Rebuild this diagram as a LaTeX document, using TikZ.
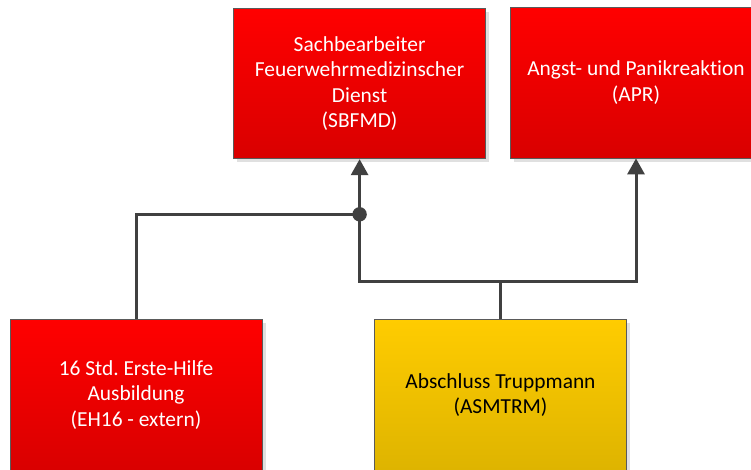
\documentclass[tikz,border=0pt]{standalone}
\usepackage{fontspec}
\setmainfont{Carlito}[Ligatures={NoCommon,NoRare,NoDiscretionary}]
\usetikzlibrary{arrows.meta,shadows}
\definecolor{lineg}{HTML}{404040}
\definecolor{boxborder}{HTML}{5A5A5A}
\tikzset{
  box/.style={draw=boxborder, line width=0.8pt, minimum width=252pt, minimum height=150.5pt,
    align=center, font=\fontsize{21.4}{25.5}\selectfont, inner sep=0pt,
    drop shadow={shadow xshift=3.5pt, shadow yshift=-3.5pt, fill=black!12, opacity=1}},
  redbox/.style={box, top color=red, bottom color={rgb,255:red,217;green,0;blue,0}, text=white},
  yellowbox/.style={box, top color={rgb,255:red,255;green,204;blue,0}, bottom color={rgb,255:red,222;green,180;blue,0}, text=black},
  conn/.style={draw=lineg, line width=3pt},
  arr/.style={conn, -{Triangle[length=16pt,width=17pt]}},
}
\frenchspacing
\begin{document}
\begin{tikzpicture}[x=1pt,y=-1pt]
\useasboundingbox[fill=white] (0,0) rectangle (751,469);
\node[redbox] (sbfmd) at (359.6,83.5) {Sachbearbeiter\\Feuerwehrmedizinscher\\Dienst\\(SBFMD)};
\node[redbox] (apr) at (636,82.75) {Angst- und Panikreaktion\\(APR)};
\node[redbox] (eh16) at (136,394.8) {16 Std. Erste-Hilfe\\Ausbildung\\(EH16 - extern)};
\node[yellowbox] (asm) at (500.5,394.8) {Abschluss Truppmann\\(ASMTRM)};
\coordinate (dot) at (359.6,214.3);
\draw[conn, line join=miter] (eh16.north) |- (dot);
\draw[conn, line join=miter] (asm.north) |- (359.6,281.7) -- (dot);
\draw[arr, line join=miter] (asm.north) |- (636,281.7) -- (apr.south);
\draw[arr] (dot) -- (sbfmd.south);
\fill[lineg] (dot) circle (7.2pt);
\end{tikzpicture}
\end{document}
